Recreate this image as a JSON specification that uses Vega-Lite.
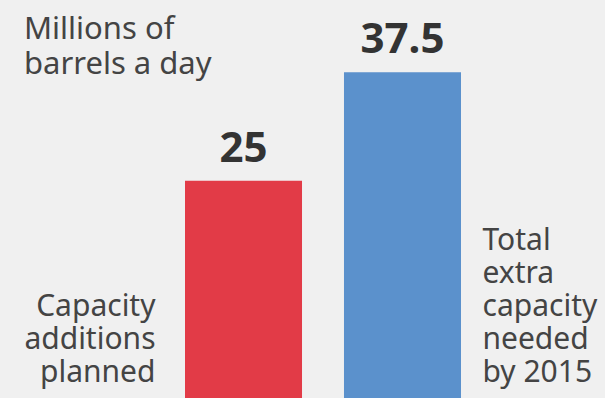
{
  "$schema": "https://vega.github.io/schema/vega-lite/v6.json",
  "width": 605,
  "height": 398,
  "padding": 0,
  "autosize": "none",
  "background": "#f0f0f0",
  "title": {
    "text": ["Millions of", "barrels a day"],
    "anchor": "start",
    "frame": "group",
    "orient": "top",
    "offset": 0,
    "dx": 24,
    "dy": 105,
    "baseline": "alphabetic",
    "lineHeight": 35,
    "font": "Noto Sans",
    "fontSize": 31,
    "fontWeight": "normal",
    "color": "#444444"
  },
  "data": {
    "values": [
      {"category": "Capacity additions planned", "value": 25, "label": ["Capacity", "additions", "planned"], "color": "red"},
      {"category": "Total extra capacity needed by 2015", "value": 37.5, "label": ["Total", "extra", "capacity", "needed", "by 2015"], "color": "blue"}
    ]
  },
  "encoding": {
    "x": {
      "field": "category",
      "type": "nominal",
      "axis": null,
      "sort": null,
      "scale": {"range": [185, 461], "paddingInner": 0.264, "paddingOuter": 0}
    }
  },
  "layer": [
    {
      "mark": {"type": "bar"},
      "encoding": {
        "y": {"field": "value", "type": "quantitative", "axis": null, "scale": {"domain": [0, 45.8], "nice": false, "zero": true}},
        "color": {"field": "color", "type": "nominal", "legend": null, "scale": {"domain": ["red", "blue"], "range": ["#e23b47", "#5b91cc"]}}
      }
    },
    {
      "mark": {"type": "text", "baseline": "alphabetic", "dy": -19, "font": "Noto Sans", "fontSize": 42, "fontWeight": "bold", "color": "#333333"},
      "encoding": {
        "y": {"field": "value", "type": "quantitative"},
        "text": {"field": "value", "type": "quantitative", "format": "~r"}
      }
    },
    {
      "transform": [{"filter": "datum.value < 30"}],
      "mark": {"type": "text", "align": "right", "baseline": "alphabetic", "dx": -88, "dy": -82, "lineHeight": 33, "font": "Noto Sans", "fontSize": 30, "color": "#444444"},
      "encoding": {
        "y": {"datum": 0, "type": "quantitative"},
        "text": {"field": "label"}
      }
    },
    {
      "transform": [{"filter": "datum.value > 30"}],
      "mark": {"type": "text", "align": "left", "baseline": "alphabetic", "dx": 80, "dy": -148, "lineHeight": 33, "font": "Noto Sans", "fontSize": 30, "color": "#444444"},
      "encoding": {
        "y": {"datum": 0, "type": "quantitative"},
        "text": {"field": "label"}
      }
    }
  ],
  "config": {"view": {"stroke": null}}
}
